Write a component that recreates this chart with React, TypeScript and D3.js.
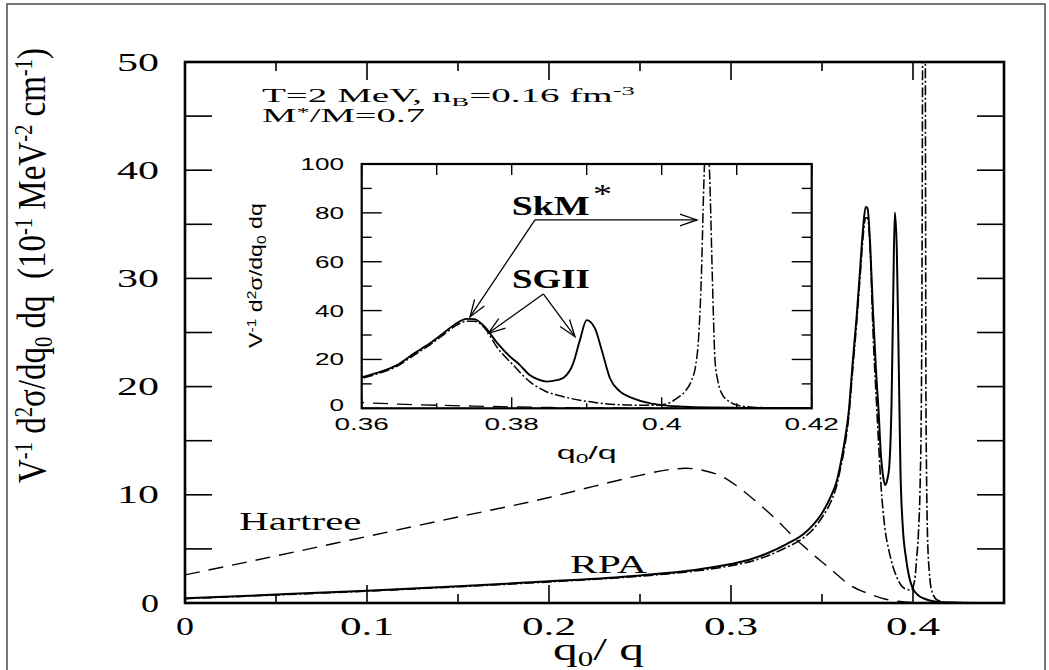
import React from 'react';
import * as d3 from 'd3';

// ---------- data ----------
const hartreeX = [0, 0.05, 0.1, 0.15, 0.2, 0.225, 0.25, 0.265, 0.275, 0.285, 0.295, 0.305, 0.315, 0.325, 0.335, 0.345, 0.355, 0.365, 0.375, 0.385, 0.395, 0.41, 0.45];
const hartreeY = [2.6, 4.35, 6.15, 7.95, 9.75, 10.8, 11.8, 12.3, 12.45, 12.25, 11.7, 10.6, 9.2, 7.7, 6.0, 4.5, 3.1, 1.7, 0.9, 0.35, 0.1, 0.02, 0];

const sgiiX = [0, 0.05, 0.1, 0.15, 0.2, 0.25, 0.28, 0.3, 0.31, 0.32, 0.33, 0.34, 0.345, 0.35, 0.355, 0.358, 0.36, 0.362, 0.3647, 0.367, 0.3691, 0.371, 0.3725, 0.374, 0.375, 0.3765, 0.378, 0.3798, 0.381, 0.3824, 0.3835, 0.3847, 0.386, 0.3869, 0.3882, 0.3891, 0.39, 0.3911, 0.392, 0.3931, 0.3944, 0.3962, 0.3985, 0.4, 0.403, 0.407, 0.412, 0.42, 0.45];
const sgiiY = [0.43, 0.78, 1.14, 1.55, 2.0, 2.55, 3.05, 3.6, 4.0, 4.6, 5.4, 6.4, 7.2, 8.3, 9.9, 11.2, 12.7, 14.5, 17.7, 22.5, 26.6, 31.0, 34.5, 36.6, 36.5, 33.0, 27.0, 21.1, 18.0, 13.6, 11.8, 10.9, 11.5, 12.5, 18.4, 28.0, 36.1, 32.7, 23.9, 12.3, 7.0, 4.1, 2.0, 1.3, 0.7, 0.35, 0.15, 0.05, 0];

const skmX = [0, 0.05, 0.1, 0.15, 0.2, 0.25, 0.28, 0.3, 0.31, 0.32, 0.33, 0.34, 0.345, 0.35, 0.355, 0.358, 0.36, 0.362, 0.3647, 0.367, 0.3691, 0.371, 0.3725, 0.374, 0.375, 0.3765, 0.378, 0.3802, 0.3824, 0.3845, 0.3869, 0.3913, 0.3958, 0.399, 0.401, 0.402, 0.403, 0.404, 0.4045, 0.4049, 0.4053, 0.4056, 0.406, 0.4064, 0.4067, 0.4069, 0.4071, 0.4075, 0.408, 0.409, 0.41, 0.4131, 0.42, 0.45];
const skmY = [0.4, 0.74, 1.1, 1.5, 1.95, 2.48, 2.95, 3.45, 3.8, 4.35, 5.1, 6.05, 6.8, 7.9, 9.4, 10.8, 12.3, 14.0, 17.2, 21.8, 26.0, 30.3, 33.7, 35.6, 35.6, 32.5, 25.2, 17.7, 10.9, 7.0, 4.75, 2.3, 1.3, 1.2, 2.2, 4.1, 6.5, 11.6, 17.0, 28.0, 55.0, 90.0, 118.0, 95.0, 60.0, 37.5, 20.0, 11.0, 6.1, 2.8, 1.35, 0.3, 0.05, 0];

const mainXTicks = [0, 0.05, 0.1, 0.15, 0.2, 0.25, 0.3, 0.35, 0.4, 0.45];
const mainXLabels = ['0', '0.1', '0.2', '0.3', '0.4'];
const mainXLabelVals = [0, 0.1, 0.2, 0.3, 0.4];
const mainYTicks = [0, 5, 10, 15, 20, 25, 30, 35, 40, 45, 50];
const mainYLabelVals = [0, 10, 20, 30, 40, 50];
const mainYLabels = ['0', '10', '20', '30', '40', '50'];

const insetXTicks = [0.36, 0.37, 0.38, 0.39, 0.4, 0.41, 0.42];
const insetXLabelVals = [0.36, 0.38, 0.4, 0.42];
const insetXLabels = ['0.36', '0.38', '0.4', '0.42'];
const insetYTicks = [0, 10, 20, 30, 40, 50, 60, 70, 80, 90, 100];
const insetYLabelVals = [0, 20, 40, 60, 80, 100];
const insetYLabels = ['0', '20', '40', '60', '80', '100'];

// arrow annotations in inset data coordinates: [vertex, tips...]
const skmArrowVertex: [number, number] = [0.3831, 77.1];
const skmArrowTips: [number, number][] = [[0.37444, 37.4], [0.4047, 77.1]];
const sgiiArrowVertex: [number, number] = [0.38421, 46.8];
const sgiiArrowTips: [number, number][] = [[0.37688, 30.7], [0.38844, 29.3]];

// ---------- layout ----------
const W = 1049;
const H = 670;
const MP = { left: 185, right: 1004, top: 62, bottom: 603 };
const IP = { left: 361.7, right: 811.7, top: 164, bottom: 408.3 };

const SERIF = "'Liberation Serif', 'DejaVu Serif', serif";
const SANS = "'Liberation Sans', Arial, sans-serif";

const zip = (xs: number[], ys: number[]) => xs.map((x, i) => [x, ys[i]] as [number, number]);

function mainLabelWidth(s: string) {
  if (s.length === 1) return 18;
  let w = 0;
  for (const c of s) w += c === '.' ? 12 : 21;
  return w;
}
function insetLabelWidth(s: string) {
  let w = 0;
  for (const c of s) w += c === '.' ? 11 : 14.5;
  return w;
}

function arrowHead(tip: [number, number], from: [number, number], len = 18, angDeg = 19) {
  const a = Math.atan2(from[1] - tip[1], from[0] - tip[0]);
  const r = (angDeg * Math.PI) / 180;
  const p1 = [tip[0] + len * Math.cos(a + r), tip[1] + len * Math.sin(a + r)];
  const p2 = [tip[0] + len * Math.cos(a - r), tip[1] + len * Math.sin(a - r)];
  return `M${p1[0]},${p1[1]}L${tip[0]},${tip[1]}L${p2[0]},${p2[1]}`;
}

export default function App() {
  const x = d3.scaleLinear().domain([0, 0.45]).range([MP.left, MP.right]);
  const y = d3.scaleLinear().domain([0, 50]).range([MP.bottom, MP.top]);
  const xi = d3.scaleLinear().domain([0.36, 0.42]).range([IP.left, IP.right]);
  const yi = d3.scaleLinear().domain([0, 100]).range([IP.bottom, IP.top]);

  const lineMain = d3.line<[number, number]>().x(d => x(d[0])).y(d => y(d[1])).curve(d3.curveMonotoneX);
  const lineInset = d3.line<[number, number]>().x(d => xi(d[0])).y(d => yi(d[1])).curve(d3.curveMonotoneX);

  const hartree = zip(hartreeX, hartreeY);
  const sgii = zip(sgiiX, sgiiY);
  const skm = zip(skmX, skmY);

  const dashDot = '10,2.5,2,2.5';
  const dashed = '15,9';

  const arrowPaths = (vertex: [number, number], tips: [number, number][]) => {
    const v: [number, number] = [xi(vertex[0]), yi(vertex[1])];
    return tips.map((t, i) => {
      const tp: [number, number] = [xi(t[0]), yi(t[1])];
      return (
        <g key={i}>
          <line x1={v[0]} y1={v[1]} x2={tp[0]} y2={tp[1]} stroke="#000" strokeWidth={1.3} />
          <path d={arrowHead(tp, v)} fill="none" stroke="#000" strokeWidth={1.3} />
        </g>
      );
    });
  };

  return (
    <svg width={W} height={H} style={{ position: 'absolute', left: 0, top: 0, background: '#fff' }}>
      <defs>
        <clipPath id="mainClip">
          <rect x={MP.left} y={MP.top} width={MP.right - MP.left} height={MP.bottom - MP.top} />
        </clipPath>
        <clipPath id="insetClip">
          <rect x={IP.left} y={IP.top} width={IP.right - IP.left} height={IP.bottom - IP.top} />
        </clipPath>
      </defs>
      <rect x={0} y={0} width={W} height={H} fill="#fff" />
      {/* outer border */}
      <rect x={7} y={4} width={1038} height={700} fill="none" stroke="#555" strokeWidth={1.6} />

      {/* main curves */}
      <g clipPath="url(#mainClip)" fill="none" stroke="#000">
        <path d={lineMain(hartree) || ''} strokeWidth={1.4} strokeDasharray={dashed} />
        <path d={lineMain(skm) || ''} strokeWidth={1.6} strokeDasharray={dashDot} />
        <path d={lineMain(sgii) || ''} strokeWidth={2} />
      </g>

      {/* main ticks */}
      <g stroke="#000" strokeWidth={1.6}>
        {mainXTicks.map((t, i) => {
          const major = Math.round(t * 100) % 10 === 0;
          const len = major ? 18 : 9;
          return (
            <g key={i}>
              <line x1={x(t)} x2={x(t)} y1={MP.bottom} y2={MP.bottom - len} />
              <line x1={x(t)} x2={x(t)} y1={MP.top} y2={MP.top + len} />
            </g>
          );
        })}
        {mainYTicks.map((t, i) => (
          <g key={i}>
            <line x1={MP.left} x2={MP.left + 27} y1={y(t)} y2={y(t)} />
            <line x1={MP.right} x2={MP.right - 27} y1={y(t)} y2={y(t)} />
          </g>
        ))}
      </g>
      <rect x={MP.left} y={MP.top} width={MP.right - MP.left} height={MP.bottom - MP.top} fill="none" stroke="#000" strokeWidth={2.6} />

      {/* main tick labels */}
      <g fontFamily={SERIF} fontSize={25} fill="#000">
        {mainXLabelVals.map((v, i) => (
          <text key={i} x={x(v) - mainLabelWidth(mainXLabels[i]) / 2} y={635} textLength={mainLabelWidth(mainXLabels[i])} lengthAdjust="spacingAndGlyphs">
            {mainXLabels[i]}
          </text>
        ))}
        {mainYLabelVals.map((v, i) => (
          <text key={i} x={159 - mainLabelWidth(mainYLabels[i])} y={y(v) + 8.5} textLength={mainLabelWidth(mainYLabels[i])} lengthAdjust="spacingAndGlyphs">
            {mainYLabels[i]}
          </text>
        ))}
      </g>

      {/* main axis titles */}
      <text x={553} y={660} fontFamily={SERIF} fontSize={32} textLength={91} lengthAdjust="spacingAndGlyphs" style={{ whiteSpace: 'pre' }}>
        q<tspan dy={6} fontSize={20}>0</tspan><tspan dy={-6}>/ q</tspan>
      </text>
      <text transform="translate(45,483) rotate(-90)" fontFamily={SERIF} fontSize={40} textLength={435} lengthAdjust="spacingAndGlyphs" style={{ whiteSpace: 'pre' }}>
        V<tspan dy={-13} fontSize={25}>-1</tspan><tspan dy={13}> d</tspan><tspan dy={-13} fontSize={25}>2</tspan><tspan dy={13}>σ/dq</tspan><tspan dy={7} fontSize={25}>0</tspan><tspan dy={-7}> dq  (10</tspan><tspan dy={-13} fontSize={25}>-1</tspan><tspan dy={13}> MeV</tspan><tspan dy={-13} fontSize={25}>-2</tspan><tspan dy={13}> cm</tspan><tspan dy={-13} fontSize={25}>-1</tspan><tspan dy={13}>)</tspan>
      </text>

      {/* annotations */}
      <text x={262} y={101.7} fontFamily={SERIF} fontSize={19} textLength={373} lengthAdjust="spacingAndGlyphs" style={{ whiteSpace: 'pre' }}>
        T=2 MeV, n<tspan dy={4} fontSize={13}>B</tspan><tspan dy={-4}>=0.16 fm</tspan><tspan dy={-7} fontSize={13}>-3</tspan>
      </text>
      <text x={262} y={121.7} fontFamily={SERIF} fontSize={19} textLength={163} lengthAdjust="spacingAndGlyphs" style={{ whiteSpace: 'pre' }}>
        M<tspan dy={-6} fontSize={13}>*</tspan><tspan dy={6}>/M=0.7</tspan>
      </text>
      <text x={239.3} y={530} fontFamily={SERIF} fontSize={26} textLength={122} lengthAdjust="spacingAndGlyphs">Hartree</text>
      <text x={570} y={573} fontFamily={SERIF} fontSize={26} textLength={77} lengthAdjust="spacingAndGlyphs">RPA</text>

      {/* inset */}
      <rect x={IP.left} y={IP.top} width={IP.right - IP.left} height={IP.bottom - IP.top} fill="#fff" />
      <g clipPath="url(#insetClip)" fill="none" stroke="#000">
        <path d={lineInset(hartree) || ''} strokeWidth={1.3} strokeDasharray={dashed} />
        <path d={lineInset(skm) || ''} strokeWidth={1.5} strokeDasharray={dashDot} />
        <path d={lineInset(sgii) || ''} strokeWidth={1.9} />
      </g>
      <g stroke="#000" strokeWidth={1.4}>
        {insetXTicks.map((t, i) => {
          const major = Math.round(t * 100) % 2 === 0;
          return (
            <g key={i}>
              <line x1={xi(t)} x2={xi(t)} y1={IP.bottom} y2={IP.bottom - (major ? 11 : 5)} />
              <line x1={xi(t)} x2={xi(t)} y1={IP.top} y2={IP.top + 11} />
            </g>
          );
        })}
        {insetYTicks.map((t, i) => {
          const major = t % 20 === 0;
          const len = major ? 20 : 10;
          return (
            <g key={i}>
              <line x1={IP.left} x2={IP.left + len} y1={yi(t)} y2={yi(t)} />
              <line x1={IP.right} x2={IP.right - len} y1={yi(t)} y2={yi(t)} />
            </g>
          );
        })}
      </g>
      <rect x={IP.left} y={IP.top} width={IP.right - IP.left} height={IP.bottom - IP.top} fill="none" stroke="#000" strokeWidth={2.2} />
      <g fontFamily={SANS} fontSize={17} fill="#000">
        {insetXLabelVals.map((v, i) => (
          <text key={i} x={xi(v) - insetLabelWidth(insetXLabels[i]) / 2} y={430} textLength={insetLabelWidth(insetXLabels[i])} lengthAdjust="spacingAndGlyphs">
            {insetXLabels[i]}
          </text>
        ))}
        {insetYLabelVals.map((v, i) => (
          <text key={i} x={344 - insetLabelWidth(insetYLabels[i])} y={yi(v) + 6 + (v === 0 ? -3 : 0)} textLength={insetLabelWidth(insetYLabels[i])} lengthAdjust="spacingAndGlyphs">
            {insetYLabels[i]}
          </text>
        ))}
      </g>
      <text x={556.7} y={459} fontFamily={SANS} fontSize={18} textLength={60} lengthAdjust="spacingAndGlyphs" style={{ whiteSpace: 'pre' }}>
        q<tspan dy={4} fontSize={12}>0</tspan><tspan dy={-4}>/q</tspan>
      </text>
      <text transform="translate(262,348) rotate(-90)" fontFamily={SANS} fontSize={18} textLength={145} lengthAdjust="spacingAndGlyphs" style={{ whiteSpace: 'pre' }}>
        V<tspan dy={-6} fontSize={12}>-1</tspan><tspan dy={6}> d</tspan><tspan dy={-6} fontSize={12}>2</tspan><tspan dy={6}>σ/dq</tspan><tspan dy={4} fontSize={12}>0</tspan><tspan dy={-4}> dq</tspan>
      </text>

      {/* inset annotations */}
      <text x={511.7} y={215} fontFamily={SERIF} fontSize={27} fontWeight={700} textLength={78} lengthAdjust="spacingAndGlyphs">SkM</text>
      <text x={593} y={203} fontFamily={SERIF} fontSize={27} textLength={19} lengthAdjust="spacingAndGlyphs">*</text>
      <text x={512} y={288.3} fontFamily={SERIF} fontSize={27} fontWeight={700} textLength={78} lengthAdjust="spacingAndGlyphs">SGII</text>
      {arrowPaths(skmArrowVertex, skmArrowTips)}
      {arrowPaths(sgiiArrowVertex, sgiiArrowTips)}
    </svg>
  );
}
